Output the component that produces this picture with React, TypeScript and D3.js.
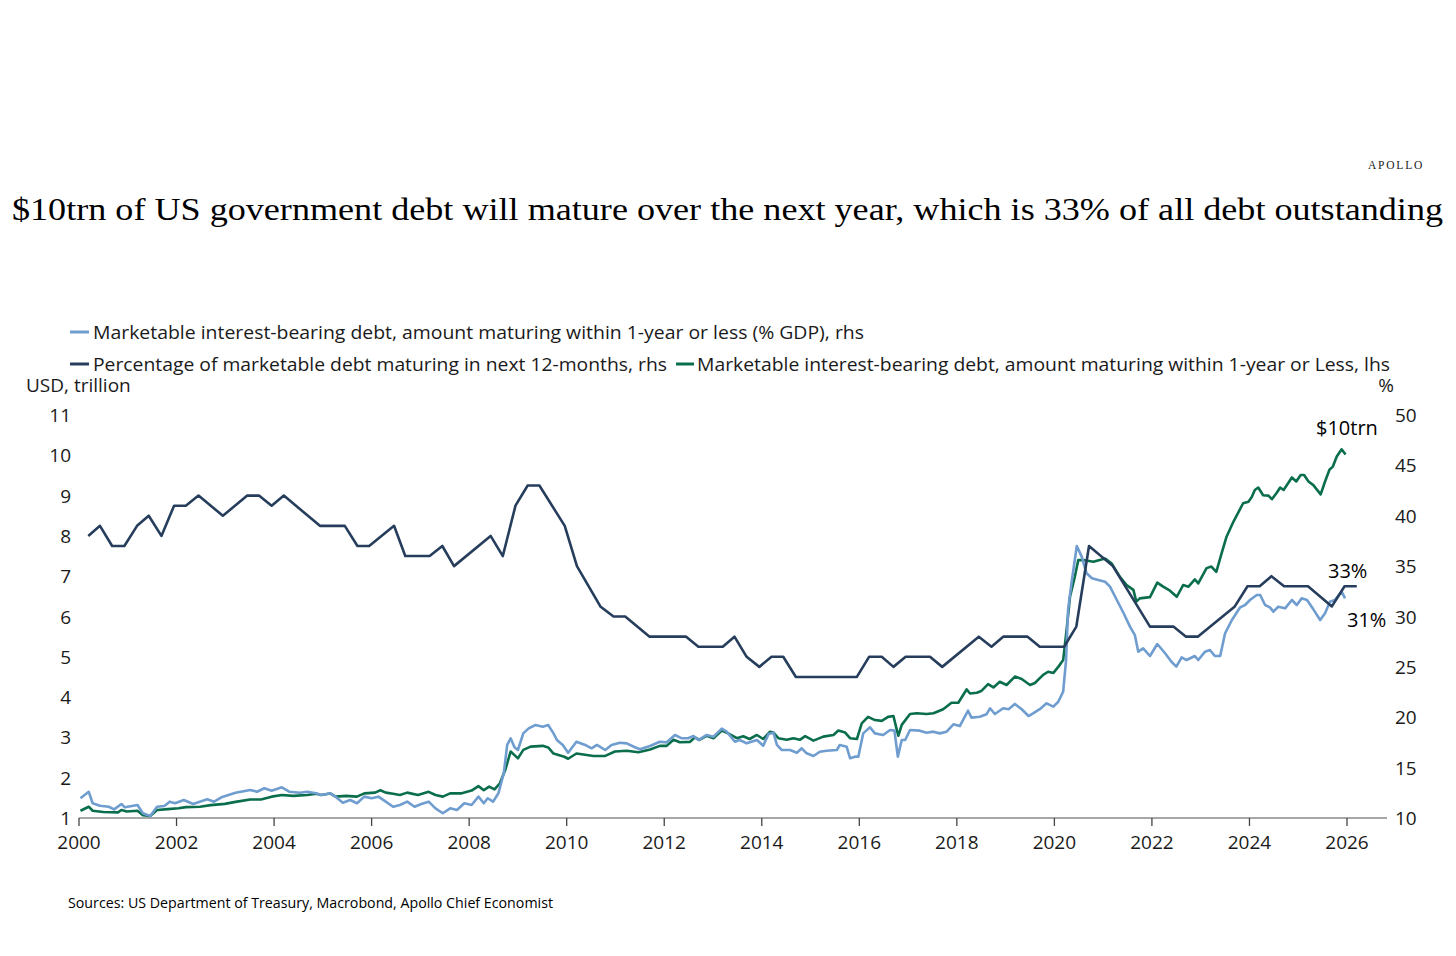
import React from "react";
import * as d3 from "d3";

// ---------- DATA ----------
const yearTicks = [2000, 2002, 2004, 2006, 2008, 2010, 2012, 2014, 2016, 2018, 2020, 2022, 2024, 2026];
const leftTicks = [1, 2, 3, 4, 5, 6, 7, 8, 9, 10, 11];
const rightTicks = [10, 15, 20, 25, 30, 35, 40, 45, 50];

const legendLabels = [
  "Marketable interest-bearing debt, amount maturing within 1-year or less (% GDP), rhs",
  "Percentage of marketable debt maturing in next 12-months, rhs",
  "Marketable interest-bearing debt, amount maturing within 1-year or Less, lhs",
];

// Percentage of marketable debt maturing in next 12 months (rhs, %)
const pctMaturing: [number, number][] = [
  [2000.19, 38], [2000.43, 39], [2000.68, 37], [2000.93, 37], [2001.19, 39], [2001.43, 40],
  [2001.69, 38], [2001.95, 41], [2002.19, 41], [2002.45, 42], [2002.95, 40], [2003.45, 42],
  [2003.69, 42], [2003.95, 41], [2004.2, 42], [2004.94, 39], [2005.45, 39], [2005.71, 37],
  [2005.95, 37], [2006.46, 39], [2006.69, 36], [2007.19, 36], [2007.45, 37], [2007.69, 35],
  [2008.44, 38], [2008.69, 36], [2008.95, 41], [2009.2, 43], [2009.44, 43], [2009.96, 39],
  [2010.21, 35], [2010.69, 31], [2010.96, 30], [2011.2, 30], [2011.7, 28], [2012.45, 28],
  [2012.7, 27], [2013.2, 27], [2013.44, 28], [2013.69, 26], [2013.95, 25], [2014.2, 26],
  [2014.44, 26], [2014.7, 24], [2015.95, 24], [2016.2, 26], [2016.46, 26], [2016.7, 25],
  [2016.95, 26], [2017.45, 26], [2017.7, 25], [2018.45, 28], [2018.71, 27], [2018.95, 28],
  [2019.45, 28], [2019.7, 27], [2020.2, 27], [2020.45, 29], [2020.71, 37], [2021.2, 35],
  [2021.96, 29], [2022.44, 29], [2022.7, 28], [2022.94, 28], [2023.7, 31], [2023.96, 33],
  [2024.21, 33], [2024.45, 34], [2024.71, 33], [2025.2, 33], [2025.69, 31], [2025.95, 33],
  [2026.2, 33],
];

// Amount maturing within 1 year or less, % of GDP (rhs)
const pctGdp: [number, number][] = [
  [2000.03, 11.96], [2000.2, 12.6], [2000.28, 11.46], [2000.43, 11.22], [2000.61, 11.12], [2000.72, 10.86],
  [2000.87, 11.39], [2000.94, 11.06], [2001.2, 11.29], [2001.31, 10.47], [2001.46, 10.2], [2001.6, 11.12],
  [2001.75, 11.19], [2001.86, 11.62], [2001.97, 11.46], [2002.15, 11.79], [2002.34, 11.39], [2002.63, 11.86],
  [2002.77, 11.62], [2002.92, 12.05], [2003.21, 12.51], [2003.51, 12.78], [2003.65, 12.61], [2003.8, 12.95],
  [2003.95, 12.71], [2004.16, 13.05], [2004.31, 12.61], [2004.53, 12.51], [2004.68, 12.61], [2004.86, 12.45],
  [2004.97, 12.28], [2005.15, 12.45], [2005.26, 12.12], [2005.41, 11.52], [2005.56, 11.79], [2005.7, 11.46],
  [2005.85, 12.12], [2006.0, 11.96], [2006.14, 12.12], [2006.29, 11.62], [2006.44, 11.12], [2006.58, 11.29],
  [2006.73, 11.62], [2006.88, 11.12], [2007.02, 11.39], [2007.17, 11.62], [2007.31, 10.96], [2007.46, 10.47],
  [2007.61, 10.96], [2007.75, 10.79], [2007.9, 11.46], [2008.05, 11.29], [2008.19, 12.12], [2008.3, 11.46],
  [2008.38, 11.96], [2008.49, 11.62], [2008.6, 12.45], [2008.71, 14.44], [2008.78, 17.25], [2008.85, 17.91],
  [2008.93, 17.02], [2009.0, 16.75], [2009.11, 18.4], [2009.22, 18.9], [2009.36, 19.23], [2009.51, 19.06],
  [2009.62, 19.23], [2009.73, 18.4], [2009.8, 17.74], [2009.92, 17.25], [2010.03, 16.48], [2010.2, 17.57],
  [2010.38, 17.25], [2010.51, 16.92], [2010.62, 17.25], [2010.79, 16.75], [2010.92, 17.25], [2011.09, 17.47],
  [2011.23, 17.41], [2011.4, 17.02], [2011.5, 16.82], [2011.71, 17.15], [2011.91, 17.57], [2012.05, 17.51],
  [2012.22, 18.24], [2012.36, 17.91], [2012.49, 17.91], [2012.6, 18.14], [2012.7, 17.74], [2012.87, 18.24],
  [2013.01, 18.07], [2013.18, 18.87], [2013.28, 18.57], [2013.45, 17.57], [2013.55, 17.74], [2013.69, 17.41],
  [2013.9, 17.74], [2014.03, 17.18], [2014.14, 18.34], [2014.24, 18.47], [2014.31, 17.25], [2014.41, 16.75],
  [2014.58, 16.75], [2014.72, 16.48], [2014.82, 16.92], [2014.92, 16.42], [2015.06, 16.15], [2015.19, 16.58],
  [2015.33, 16.68], [2015.54, 16.75], [2015.6, 17.25], [2015.74, 17.08], [2015.81, 15.93], [2015.91, 16.09],
  [2015.98, 16.09], [2016.08, 18.4], [2016.22, 19.0], [2016.32, 18.4], [2016.49, 18.24], [2016.63, 18.73],
  [2016.72, 18.67], [2016.79, 16.09], [2016.87, 17.74], [2016.94, 17.74], [2017.04, 18.73], [2017.24, 18.67],
  [2017.38, 18.47], [2017.52, 18.57], [2017.65, 18.4], [2017.79, 18.57], [2017.93, 19.3], [2018.06, 19.13],
  [2018.23, 20.65], [2018.3, 19.96], [2018.47, 20.05], [2018.61, 20.3], [2018.68, 20.89], [2018.78, 20.32],
  [2018.95, 20.89], [2019.06, 20.8], [2019.19, 21.32], [2019.33, 20.79], [2019.47, 20.12], [2019.57, 20.4],
  [2019.7, 20.8], [2019.84, 21.38], [2019.98, 21.05], [2020.08, 21.54], [2020.18, 22.54], [2020.24, 25.7],
  [2020.28, 30.65], [2020.35, 33.3], [2020.46, 37.0], [2020.56, 35.94], [2020.66, 34.29], [2020.77, 33.79],
  [2020.9, 33.62], [2021.04, 33.45], [2021.14, 32.96], [2021.28, 31.64], [2021.42, 30.32], [2021.55, 28.99],
  [2021.65, 28.16], [2021.72, 26.51], [2021.82, 26.84], [2021.96, 26.08], [2022.11, 27.27], [2022.27, 26.35],
  [2022.4, 25.51], [2022.5, 25.02], [2022.61, 25.95], [2022.71, 25.68], [2022.88, 26.08], [2022.95, 25.68],
  [2023.09, 26.51], [2023.19, 26.67], [2023.29, 26.08], [2023.4, 26.08], [2023.5, 28.33], [2023.64, 29.65],
  [2023.81, 30.91], [2023.91, 31.14], [2024.01, 31.64], [2024.15, 32.13], [2024.22, 32.13], [2024.32, 31.14],
  [2024.42, 30.91], [2024.49, 30.48], [2024.59, 30.97], [2024.73, 30.81], [2024.87, 31.64], [2024.97, 31.14],
  [2025.07, 31.8], [2025.18, 31.64], [2025.31, 30.71], [2025.45, 29.65], [2025.55, 30.32], [2025.65, 31.47],
  [2025.75, 31.64], [2025.89, 32.46], [2025.96, 31.8],
];

// Amount maturing within 1 year or less, USD trillion (lhs)
const usdTrn: [number, number][] = [
  [2000.03, 1.18], [2000.2, 1.28], [2000.28, 1.18], [2000.5, 1.15], [2000.8, 1.14], [2000.87, 1.2],
  [2000.98, 1.16], [2001.2, 1.18], [2001.31, 1.07], [2001.46, 1.05], [2001.6, 1.2], [2001.82, 1.22],
  [2002.04, 1.24], [2002.19, 1.27], [2002.48, 1.28], [2002.7, 1.32], [2002.99, 1.35], [2003.21, 1.4],
  [2003.51, 1.46], [2003.73, 1.46], [2003.95, 1.53], [2004.16, 1.57], [2004.39, 1.55], [2004.68, 1.57],
  [2004.86, 1.6], [2004.97, 1.57], [2005.15, 1.61], [2005.26, 1.53], [2005.48, 1.55], [2005.7, 1.53],
  [2005.85, 1.61], [2006.07, 1.63], [2006.18, 1.69], [2006.29, 1.63], [2006.44, 1.6], [2006.58, 1.57],
  [2006.73, 1.63], [2006.95, 1.57], [2007.17, 1.65], [2007.31, 1.57], [2007.46, 1.53], [2007.61, 1.61],
  [2007.83, 1.61], [2008.05, 1.68], [2008.19, 1.79], [2008.3, 1.69], [2008.41, 1.78], [2008.52, 1.71],
  [2008.63, 1.86], [2008.74, 2.19], [2008.85, 2.65], [2008.93, 2.56], [2009.0, 2.48], [2009.11, 2.69],
  [2009.26, 2.77], [2009.51, 2.79], [2009.62, 2.75], [2009.73, 2.6], [2009.95, 2.52], [2010.03, 2.47],
  [2010.2, 2.6], [2010.55, 2.54], [2010.79, 2.54], [2010.99, 2.65], [2011.23, 2.67], [2011.47, 2.63],
  [2011.71, 2.7], [2011.91, 2.79], [2012.05, 2.79], [2012.19, 2.94], [2012.32, 2.88], [2012.53, 2.89],
  [2012.63, 3.0], [2012.72, 2.94], [2012.87, 3.04], [2013.01, 2.98], [2013.18, 3.17], [2013.31, 3.1],
  [2013.49, 2.98], [2013.62, 3.03], [2013.75, 2.96], [2013.9, 3.06], [2014.03, 2.96], [2014.17, 3.14],
  [2014.24, 3.12], [2014.34, 2.98], [2014.51, 2.94], [2014.65, 2.98], [2014.78, 2.94], [2014.89, 3.03],
  [2015.06, 2.92], [2015.26, 3.02], [2015.47, 3.06], [2015.57, 3.17], [2015.71, 3.12], [2015.81, 2.98],
  [2015.95, 2.96], [2016.05, 3.35], [2016.18, 3.51], [2016.32, 3.43], [2016.46, 3.41], [2016.59, 3.51],
  [2016.7, 3.53], [2016.77, 3.18], [2016.8, 3.04], [2016.87, 3.31], [2017.04, 3.58], [2017.18, 3.6],
  [2017.38, 3.58], [2017.52, 3.6], [2017.72, 3.7], [2017.89, 3.86], [2018.03, 3.86], [2018.2, 4.19],
  [2018.27, 4.09], [2018.41, 4.11], [2018.5, 4.15], [2018.64, 4.32], [2018.75, 4.24], [2018.88, 4.38],
  [2019.02, 4.3], [2019.19, 4.51], [2019.33, 4.45], [2019.5, 4.3], [2019.6, 4.35], [2019.77, 4.55],
  [2019.87, 4.63], [2019.98, 4.6], [2020.08, 4.75], [2020.18, 4.92], [2020.25, 5.66], [2020.32, 6.49],
  [2020.42, 6.99], [2020.49, 7.4], [2020.59, 7.4], [2020.8, 7.36], [2021.04, 7.44], [2021.17, 7.32],
  [2021.34, 6.99], [2021.48, 6.78], [2021.62, 6.66], [2021.68, 6.37], [2021.75, 6.45], [2021.96, 6.48],
  [2022.11, 6.84], [2022.23, 6.74], [2022.37, 6.64], [2022.51, 6.49], [2022.64, 6.78], [2022.75, 6.74],
  [2022.88, 6.92], [2022.95, 6.82], [2023.12, 7.2], [2023.22, 7.24], [2023.32, 7.11], [2023.43, 7.57],
  [2023.53, 7.98], [2023.67, 8.35], [2023.87, 8.81], [2023.98, 8.85], [2024.05, 8.97], [2024.11, 9.14],
  [2024.18, 9.2], [2024.28, 9.01], [2024.39, 9.0], [2024.46, 8.91], [2024.56, 9.07], [2024.63, 9.2],
  [2024.7, 9.14], [2024.87, 9.45], [2024.96, 9.35], [2025.05, 9.51], [2025.12, 9.51], [2025.21, 9.35],
  [2025.31, 9.26], [2025.46, 9.03], [2025.55, 9.35], [2025.64, 9.64], [2025.71, 9.72], [2025.79, 9.97],
  [2025.89, 10.15], [2025.97, 10.02],
];

// ---------- STYLE ----------
const C_LIGHT = "#6f9dcf";
const C_NAVY = "#263e5c";
const C_GREEN = "#0a6e4c";
const TEXT = "#1a1a1a";
const SANS = "'Open Sans', 'Noto Sans', sans-serif";
const SERIF = "'Liberation Serif', 'DejaVu Serif', serif";

export default function App() {
  const W = 1456;
  const H = 956;
  const x = d3.scaleLinear().domain([2000, 2026]).range([79, 1347]);
  const yL = d3.scaleLinear().domain([1, 11]).range([818, 415]);
  const yR = d3.scaleLinear().domain([10, 50]).range([818, 415]);

  const lineR = d3
    .line<[number, number]>()
    .x((d) => x(d[0]))
    .y((d) => yR(d[1]));
  const lineL = d3
    .line<[number, number]>()
    .x((d) => x(d[0]))
    .y((d) => yL(d[1]));

  const axisY = yL(1);
  const axisX0 = x(2000);
  const axisX1 = x(2026) + 40;

  return (
    <svg
      width={W}
      height={H}
      viewBox={`0 0 ${W} ${H}`}
      style={{ position: "absolute", left: 0, top: 0, background: "#fff" }}
    >
      <rect x={0} y={0} width={W} height={H} fill="#fff" />

      {/* Brand */}
      <text
        x={1396}
        y={165}
        fontFamily={SERIF}
        fontSize={11.5}
        letterSpacing={1.8}
        textAnchor="middle"
        dominantBaseline="central"
        fill={TEXT}
      >
        APOLLO
      </text>

      {/* Title */}
      <text
        x={12}
        y={220}
        fontFamily={SERIF}
        fontSize={32}
        fill="#000"
        textLength={1431}
        lengthAdjust="spacingAndGlyphs"
      >
        $10trn of US government debt will mature over the next year, which is 33% of all debt outstanding
      </text>

      {/* Legend */}
      <g fontFamily={SANS} fontSize={19} fill={TEXT}>
        <line x1={70} x2={89} y1={332} y2={332} stroke={C_LIGHT} strokeWidth={3} />
        <text x={93} y={332} dominantBaseline="central" textLength={771} lengthAdjust="spacingAndGlyphs">
          {legendLabels[0]}
        </text>
        <line x1={70} x2={89} y1={364} y2={364} stroke={C_NAVY} strokeWidth={3} />
        <text x={93} y={364} dominantBaseline="central" textLength={574} lengthAdjust="spacingAndGlyphs">
          {legendLabels[1]}
        </text>
        <line x1={676} x2={694} y1={364} y2={364} stroke={C_GREEN} strokeWidth={3} />
        <text x={697} y={364} dominantBaseline="central" textLength={693} lengthAdjust="spacingAndGlyphs">
          {legendLabels[2]}
        </text>
      </g>

      {/* Axis titles */}
      <text x={26} y={385} fontFamily={SANS} fontSize={19} fill={TEXT} dominantBaseline="central">
        USD, trillion
      </text>
      <text x={1386} y={385} fontFamily={SANS} fontSize={19} fill={TEXT} dominantBaseline="central" textAnchor="middle">
        %
      </text>

      {/* Left ticks */}
      <g fontFamily={SANS} fontSize={19} fill={TEXT}>
        {leftTicks.map((t) => (
          <text key={"l" + t} x={71} y={yL(t)} textAnchor="end" dominantBaseline="central">
            {t}
          </text>
        ))}
        {rightTicks.map((t) => (
          <text key={"r" + t} x={1395} y={yR(t)} textAnchor="start" dominantBaseline="central">
            {t}
          </text>
        ))}
        {yearTicks.map((t) => (
          <text key={"x" + t} x={x(t)} y={842} textAnchor="middle" dominantBaseline="central">
            {t}
          </text>
        ))}
      </g>

      {/* X axis */}
      <line x1={axisX0} x2={axisX1} y1={axisY} y2={axisY} stroke="#8a8a8a" strokeWidth={1.5} />
      {yearTicks.map((t) => (
        <line key={"tk" + t} x1={x(t)} x2={x(t)} y1={axisY} y2={axisY + 8} stroke="#444" strokeWidth={1.3} />
      ))}

      {/* Series */}
      <path d={lineL(usdTrn) || ""} fill="none" stroke={C_GREEN} strokeWidth={2.6} strokeLinejoin="round" />
      <path d={lineR(pctGdp) || ""} fill="none" stroke={C_LIGHT} strokeWidth={2.6} strokeLinejoin="round" />
      <path d={lineR(pctMaturing) || ""} fill="none" stroke={C_NAVY} strokeWidth={2.6} strokeLinejoin="round" />

      {/* Annotations */}
      <g fontFamily={SANS} fontSize={20} fill="#000">
        <text x={1316} y={427} dominantBaseline="central">$10trn</text>
        <text x={1328} y={570} dominantBaseline="central">33%</text>
        <text x={1347} y={619} dominantBaseline="central">31%</text>
      </g>

      {/* Source */}
      <text x={68} y={902} fontFamily={SANS} fontSize={14} fill="#000" dominantBaseline="central" textLength={485} lengthAdjust="spacingAndGlyphs">
        Sources: US Department of Treasury, Macrobond, Apollo Chief Economist
      </text>
    </svg>
  );
}
